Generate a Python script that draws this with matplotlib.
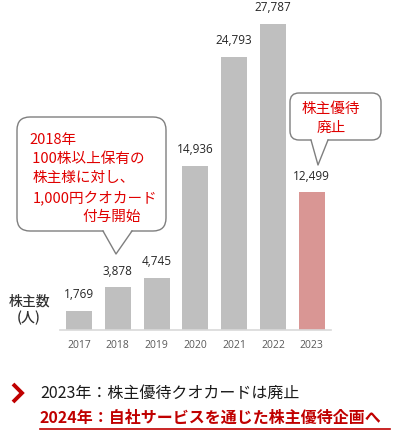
import matplotlib.pyplot as plt
from matplotlib.patches import FancyBboxPatch, Polygon

plt.rcParams["font.family"] = ["Noto Sans CJK JP", "DejaVu Sans"]

years = ["2017", "2018", "2019", "2020", "2021", "2022", "2023"]
holders = [1769, 3878, 4745, 14936, 24793, 27787, 12499]
bar_colors = ["#BFBFBF"] * 6 + ["#D99694"]

W, H = 399, 432
fig = plt.figure(figsize=(W / 100, H / 100), dpi=100)

# main bar axes
ax = fig.add_axes([59.6 / W, (H - 330) / H, 271.6 / W, 330.3 / H])
x = range(len(years))
bars = ax.bar(x, holders, width=0.67, color=bar_colors)
for b, v in zip(bars, holders):
    ax.annotate(f"{v:,}", (b.get_x() + b.get_width() / 2, v), xytext=(0, 7),
                textcoords="offset points", ha="center", va="bottom",
                fontsize=8.5, color="#262626", family="Open Sans")
ax.set_xlim(-0.5, 6.5)
ax.set_ylim(0, 30000)
ax.set_xticks(list(x), years)
ax.tick_params(axis="x", length=0, pad=7, labelsize=7.5, labelcolor="#595959")
for lab in ax.get_xticklabels():
    lab.set_family("Open Sans")
ax.set_yticks([])
for s in ["top", "right", "left"]:
    ax.spines[s].set_visible(False)
ax.spines["bottom"].set_color("#D9D9D9")
ax.spines["bottom"].set_linewidth(1.2)
ax.patch.set_alpha(0)

# overlay in pixel coordinates for callouts and notes
ov = fig.add_axes([0, 0, 1, 1])
ov.set_xlim(0, W)
ov.set_ylim(H, 0)
ov.axis("off")
ov.patch.set_alpha(0)

ov.text(29, 301, "株主数", ha="center", va="center", fontsize=10, color="#333333",
        fontweight="medium")
ov.text(29, 318, "(人)", ha="center", va="center", fontsize=10, color="#333333",
        fontweight="medium")


def callout(x0, y0, x1, y1, r, tail):
    box = FancyBboxPatch((x0, y0), x1 - x0, y1 - y0,
                         boxstyle=f"round,pad=0,rounding_size={r}",
                         fc="white", ec="#7F7F7F", lw=1.0, zorder=3)
    ov.add_patch(box)
    (bx0, by), (tx, ty), (bx1, _) = tail
    ov.add_patch(Polygon([(bx0, by - 1.5), (tx, ty), (bx1, by - 1.5)],
                         closed=True, fc="white", ec="none", zorder=4))
    ov.plot([bx0, tx, bx1], [by, ty, by], color="#7F7F7F", lw=1.0, zorder=5)


callout(17, 117, 166, 231, 13, [(103, 231), (116, 254), (132, 231)])
red = "#E00000"
lines1 = [("2018年", 29), (" 100株以上保有の", 29), ("株主様に対し、", 33),
          ("1,000円クオカード", 33), ("付与開始", 82)]
for i, (t, xx) in enumerate(lines1):
    ov.text(xx, 140 + i * 19.2, t, ha="left", va="center", fontsize=10.5,
            color=red, zorder=6)

callout(290, 93, 381, 140, 9, [(311, 140), (318, 165), (328, 140)])
ov.text(331, 109, "株主優待", ha="center", va="center", fontsize=10.5, color=red, zorder=6)
ov.text(331, 128, "廃止", ha="center", va="center", fontsize=10.5, color=red, zorder=6)

# bottom notes
ov.plot([13, 22, 13], [384, 393, 402], color="#C00000", lw=2.8,
        solid_joinstyle="miter", solid_capstyle="butt")
ov.text(40, 393, "2023年：株主優待クオカードは廃止", ha="left", va="center",
        fontsize=11.5, color="#1A1A1A")
ov.text(40, 418, "2024年：自社サービスを通じた株主優待企画へ", ha="left", va="center",
        fontsize=11.5, color="#C00000", fontweight="bold")
ov.plot([40, 390], [428.5, 428.5], color="#C00000", lw=1.2)

fig.savefig("out.png", dpi=100)
